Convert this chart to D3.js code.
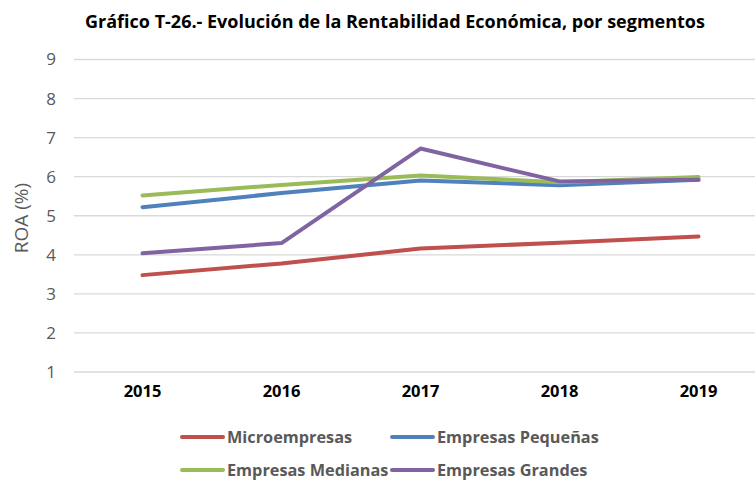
<!DOCTYPE html>
<html>
<head>
<meta charset="utf-8">
<script src="https://cdn.jsdelivr.net/npm/d3@7"></script>
<style>
  body { margin: 0; background: #fff; }
  text { font-family: "Open Sans", "Liberation Sans", sans-serif; }
</style>
</head>
<body>
<div id="chart"></div>
<script>
var years = ["2015", "2016", "2017", "2018", "2019"];
var microempresas = [3.48, 3.78, 4.16, 4.31, 4.47];
var pequenas = [5.22, 5.58, 5.90, 5.78, 5.92];
var medianas = [5.52, 5.79, 6.03, 5.86, 5.99];
var grandes = [4.04, 4.30, 6.72, 5.88, 5.92];
var yTicks = [1, 2, 3, 4, 5, 6, 7, 8, 9];

var series = [
  { name: "Microempresas", values: microempresas, color: "#C0504D" },
  { name: "Empresas Pequeñas", values: pequenas, color: "#4F81BD" },
  { name: "Empresas Medianas", values: medianas, color: "#9BBB59" },
  { name: "Empresas Grandes", values: grandes, color: "#8064A2" }
];

var svgWidth = 755;
var svgHeight = 481;

var svg = d3.select("#chart")
  .append("svg")
  .attr("width", svgWidth)
  .attr("height", svgHeight);

var xScale = d3.scaleBand()
  .domain(years)
  .range([73, 768]);

var yScale = d3.scaleLinear()
  .domain([1, 9])
  .range([372, 59.5]);

// title
svg.append("text")
  .attr("x", 395)
  .attr("y", 28)
  .attr("text-anchor", "middle")
  .attr("font-size", 18)
  .attr("font-weight", "bold")
  .attr("fill", "#000")
  .text("Gráfico T-26.- Evolución de la Rentabilidad Económica, por segmentos");

// gridlines
svg.append("g")
  .selectAll("line")
  .data(yTicks)
  .enter()
  .append("line")
  .attr("x1", 74)
  .attr("x2", 755)
  .attr("y1", d => yScale(d))
  .attr("y2", d => yScale(d))
  .attr("stroke", "#d9d9d9")
  .attr("stroke-width", 1.3);

// y axis labels
var leftAxis = d3.axisLeft(yScale).tickValues(yTicks).tickSize(0).tickPadding(0);
var yAxis = svg.append("g")
  .attr("transform", "translate(56,0)")
  .call(leftAxis);
yAxis.select(".domain").remove();
yAxis.selectAll("text")
  .attr("font-size", 17)
  .attr("fill", "#595959")
  .style("font-family", "'Open Sans', sans-serif");

svg.append("text")
  .attr("transform", "translate(28,218) rotate(-90)")
  .attr("text-anchor", "middle")
  .attr("font-size", 19)
  .attr("fill", "#595959")
  .text("ROA (%)");

// x axis labels
var bottomAxis = d3.axisBottom(xScale).tickSize(0).tickPadding(0);
var xAxis = svg.append("g")
  .attr("transform", "translate(0,385)")
  .call(bottomAxis);
xAxis.select(".domain").remove();
xAxis.selectAll("text")
  .attr("font-size", 16.5)
  .attr("font-weight", "bold")
  .attr("fill", "#000")
  .style("font-family", "'Open Sans', sans-serif");

// lines
var line = d3.line()
  .x((d, i) => xScale(years[i]) + xScale.bandwidth() / 2)
  .y(d => yScale(d));

svg.append("g")
  .selectAll("path")
  .data(series)
  .enter()
  .append("path")
  .attr("d", d => line(d.values))
  .attr("fill", "none")
  .attr("stroke", d => d.color)
  .attr("stroke-width", 4)
  .attr("stroke-linecap", "round")
  .attr("stroke-linejoin", "round");

// legend
var legendPos = [[180, 437], [390, 437], [180, 470], [390, 470]];
var legend = svg.append("g")
  .selectAll("g")
  .data(series)
  .enter()
  .append("g")
  .attr("transform", (d, i) => `translate(${legendPos[i][0]},${legendPos[i][1]})`);

legend.append("line")
  .attr("x1", 2)
  .attr("x2", 43)
  .attr("stroke", d => d.color)
  .attr("stroke-width", 4)
  .attr("stroke-linecap", "round");

legend.append("text")
  .attr("x", 47)
  .attr("y", 6)
  .attr("font-size", 16.3)
  .attr("font-weight", "bold")
  .attr("fill", "#595959")
  .text(d => d.name);
</script>
</body>
</html>
